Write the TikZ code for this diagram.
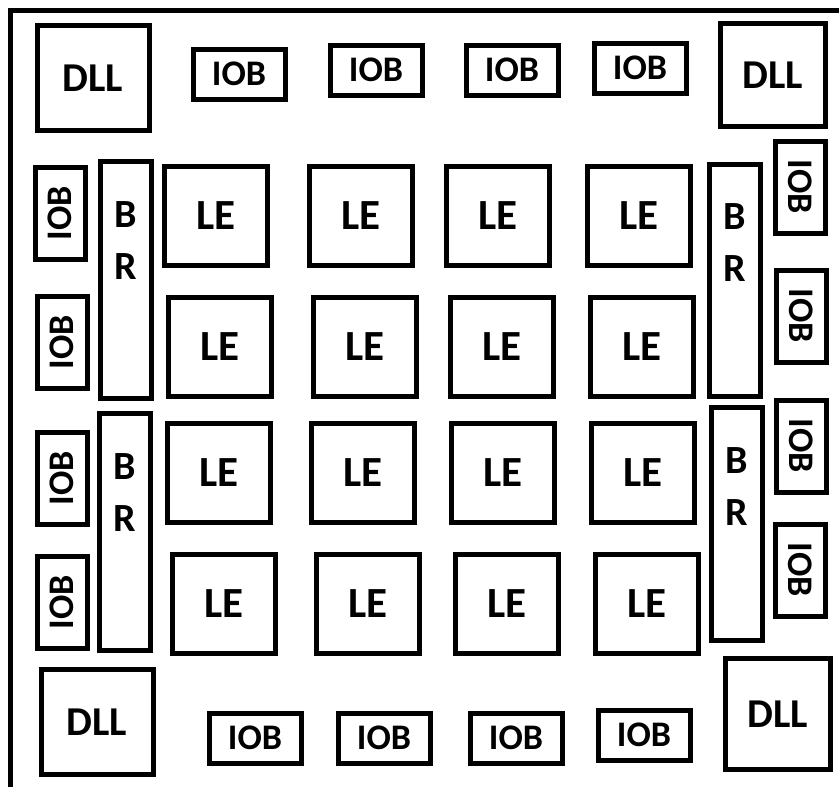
\documentclass[tikz,border=0pt]{standalone}
\usepackage{fontspec}
\setmainfont{Carlito}
\usepackage{tikz}
\usetikzlibrary{positioning}

\begin{document}
\begin{tikzpicture}[
    x=0.5pt, y=-0.5pt,
    base/.style={rectangle, draw=black, line width=2.5pt, inner sep=0pt, align=center, fill=white},
    dll/.style={base, minimum width=56pt, minimum height=52.5pt, font=\bfseries\fontsize{20.5}{25}\selectfont},
    iob/.style={base, minimum width=46pt, minimum height=25pt, font=\bfseries\fontsize{18}{22}\selectfont},
    le/.style={base, minimum width=51.5pt, minimum height=49.5pt, font=\bfseries\fontsize{21.5}{26}\selectfont},
    brbox/.style={base, minimum width=25.5pt, minimum height=118.5pt},
    % text of the BR columns sits near the top
    brtxt/.style={inner sep=0pt, anchor=north, align=center, font=\bfseries\fontsize{20}{26}\selectfont},
    frame/.style={line width=2.5pt}
]
    \useasboundingbox (0,0) rectangle (839,787);

    % --- Outer frame ---
    \coordinate (fbl) at (10.5,787);
    \coordinate (ftl) at (10.5,10.5);
    \coordinate (ftr) at (839,10.5);
    \draw[frame] (fbl) -- (ftl) -- (ftr);

    % --- DLL corners ---
    \node[dll] (dlltl) at (93,78) {DLL};
    \node[dll, minimum width=52.5pt, minimum height=51.5pt] (dlltr) at (773,75) {DLL};
    \node[dll] (dllbl) at (97,722) {DLL};
    \node[dll, minimum width=52.5pt, minimum height=55.5pt] (dllbr) at (778,714) {DLL};

    % --- Top / bottom IOBs ---
    \node[iob] (iobt1) at (239,74) {IOB};
    \node[iob] (iobt2) at (376,70) {IOB};
    \node[iob] (iobt3) at (512,70) {IOB};
    \node[iob] (iobt4) at (640,68) {IOB};

    \node[iob] (iobb1) at (255,738) {IOB};
    \node[iob] (iobb2) at (384,738) {IOB};
    \node[iob] (iobb3) at (516,738) {IOB};
    \node[iob] (iobb4) at (644,735) {IOB};

    % --- Side IOBs (rotated) ---
    \node[iob, rotate=90] (iobl1) at (60,213) {IOB};
    \node[iob, rotate=90] (iobl2) at (62,342) {IOB};
    \node[iob, rotate=90] (iobl3) at (62,478) {IOB};
    \node[iob, rotate=90] (iobl4) at (62,602) {IOB};

    \node[iob, rotate=-90] (iobr1) at (800,187) {IOB};
    \node[iob, rotate=-90] (iobr2) at (801,316) {IOB};
    \node[iob, rotate=-90] (iobr3) at (801,446) {IOB};
    \node[iob, rotate=-90] (iobr4) at (800,570) {IOB};

    % --- BR columns ---
    \node[brbox] (brl1) at (126,280) {};
    \node[brbox] (brl2) at (125,532) {};
    \node[brbox, minimum height=116pt] (brr1) at (735,280) {};
    \node[brbox, minimum height=116.5pt] (brr2) at (737,524) {};

    \node[brtxt, below=21pt of brl1.north] (brl1t) {B\\R};
    \node[brtxt, below=21pt of brl2.north] (brl2t) {B\\R};
    \node[brtxt, below=21pt of brr1.north] (brr1t) {B\\R};
    \node[brtxt, below=21pt of brr2.north] (brr2t) {B\\R};

    % --- LE array ---
    \node[le] (le11) at (216,216) {LE};
    \node[le] (le12) at (361,216) {LE};
    \node[le] (le13) at (498,216) {LE};
    \node[le] (le14) at (639,216) {LE};

    \node[le] (le21) at (220,347) {LE};
    \node[le] (le22) at (365,347) {LE};
    \node[le] (le23) at (502,347) {LE};
    \node[le] (le24) at (642,347) {LE};

    \node[le] (le31) at (219,473) {LE};
    \node[le] (le32) at (363,473) {LE};
    \node[le] (le33) at (503,473) {LE};
    \node[le] (le34) at (643,473) {LE};

    \node[le] (le41) at (224,604) {LE};
    \node[le] (le42) at (368,604) {LE};
    \node[le] (le43) at (507,604) {LE};
    \node[le] (le44) at (647,604) {LE};

\end{tikzpicture}
\end{document}
